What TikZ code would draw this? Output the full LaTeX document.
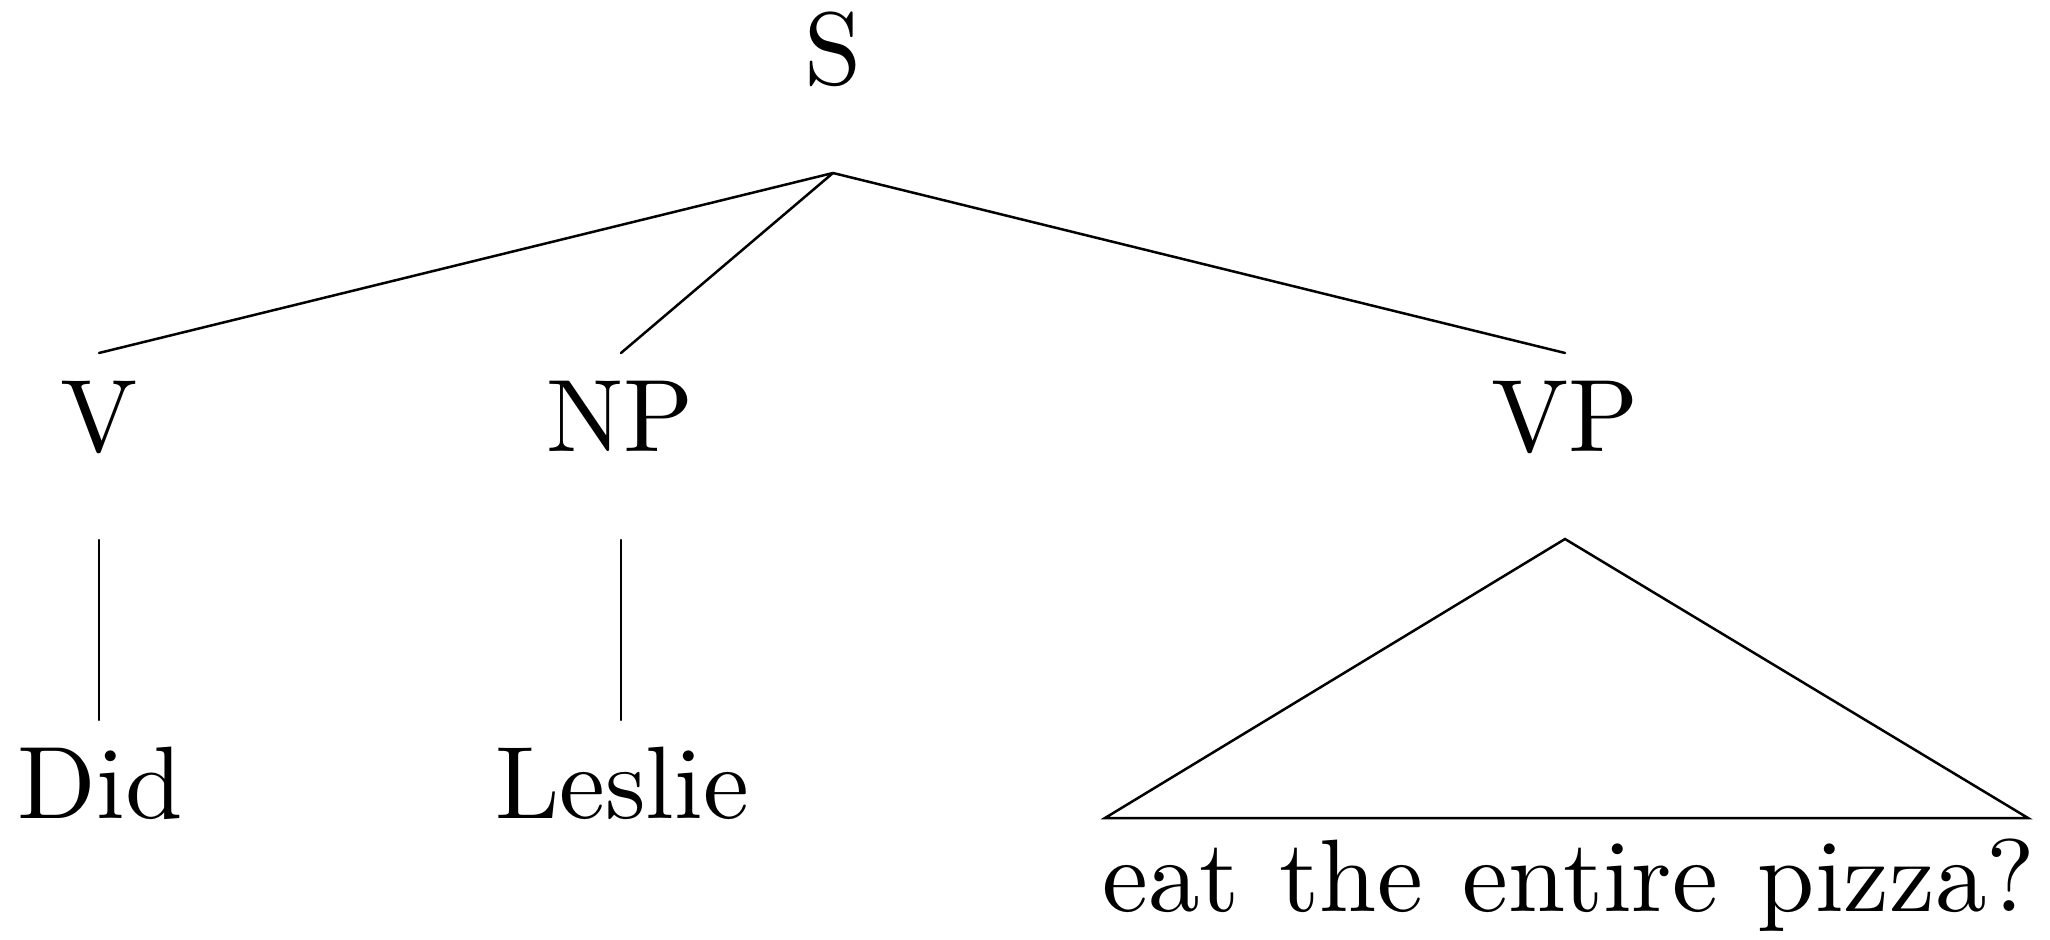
\documentclass[tikz,border=0pt]{standalone}
\usepackage{fontspec}
\setmainfont{lmroman10-regular.otf}
\begin{document}
\begin{tikzpicture}[x=0.5pt,y=-0.5pt,
  lab/.style={anchor=base,inner sep=0pt,font=\fontsize{51.5pt}{60pt}\selectfont},
  edge/.style={line width=1.25pt,line cap=round,line join=miter}]
\useasboundingbox (0,0) rectangle (2050,940);
% labels
\node[lab] (S) at (833,85) {S};
\node[lab] (V) at (99,452) {V};
\node[lab] (NP) at (620,452) {NP};
\node[lab] (VP) at (1565,452) {VP};
\node[lab] (Did) at (100,818) {Did};
\node[lab] (Leslie) at (622,818) {Leslie};
\node[lab] (eat) at (1569,911) {\spaceskip=20pt eat the entire pizza?};
% connector ends
\coordinate (Sb) at (833,173);
\coordinate (Vt) at (99,353);
\coordinate (NPt) at (621,353);
\coordinate (VPt) at (1565,353);
\coordinate (Vb) at (99,540);
\coordinate (Didt) at (99,720);
\coordinate (NPb) at (621,540);
\coordinate (Leslt) at (621,720);
\coordinate (VPb) at (1565,539);
\coordinate (roofL) at (1105,818);
\coordinate (roofR) at (2028,818);
% edges
\draw[edge] (Sb) -- (Vt);
\draw[edge] (Sb) -- (NPt);
\draw[edge] (Sb) -- (VPt);
\draw[edge] (Vb) -- (Didt);
\draw[edge] (NPb) -- (Leslt);
\draw[edge] (VPb) -- (roofL) -- (roofR) -- cycle;
\end{tikzpicture}
\end{document}
